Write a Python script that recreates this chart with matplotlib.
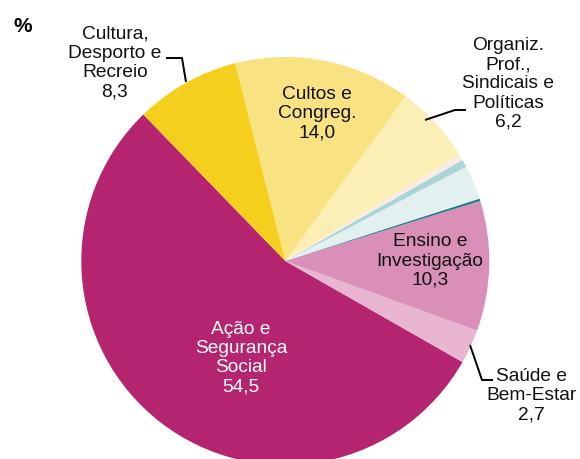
import matplotlib
matplotlib.use('Agg')
import matplotlib.pyplot as plt

plt.rcParams['font.family'] = ['Liberation Sans', 'DejaVu Sans']

# Distribuição por área de atividade (%)
areas = ['Ação e\nSegurança\nSocial', 'Saúde e\nBem-Estar', 'Ensino e\nInvestigação',
         'Outra 1', 'Outra 2', 'Outra 3', 'Outra 4',
         'Organiz.\nProf.,\nSindicais e\nPolíticas', 'Cultos e\nCongreg.',
         'Cultura,\nDesporto e\nRecreio']
valores = [54.5, 2.7, 10.3, 0.2, 2.7, 0.6, 0.5, 6.2, 14.0, 8.3]
rotulos = ['54,5', '2,7', '10,3', '', '', '', '', '6,2', '14,0', '8,3']
cores = ['#B5246E', '#E8B6D1', '#D98FB8', '#1F7F86', '#E2F0F0', '#AAD4D6',
         '#F8ECE3', '#FCEFB6', '#F9E282', '#F5CF1E']

W, H = 580, 459
fig = plt.figure(figsize=(W / 100, H / 100), dpi=100)
ax = fig.add_axes([0, 0, 1, 1])

ax.pie(valores, colors=cores, startangle=134.1, counterclock=True,
       radius=204, center=(285.3, H - 261),
       wedgeprops=dict(linewidth=0))
ax.set_xlim(0, W)
ax.set_ylim(0, H)
ax.set_aspect('equal')
ax.set_axis_off()

fs = 13.8


def txt(x, y, s, cor='#111111', **kw):
    ax.text(x, H - y, s, ha='center', va='center', fontsize=fs, color=cor,
            linespacing=1.16, **kw)


def seta(pts):
    ax.plot([p[0] for p in pts], [H - p[1] for p in pts], color='black', lw=1.4,
            solid_capstyle='butt', solid_joinstyle='miter')


ax.text(13, H - 26, '%', fontsize=15, fontweight='bold', ha='left', va='center')

# rótulos com linha de chamada
txt(115, 63, areas[9] + '\n' + rotulos[9])
seta([(166, 58), (182, 58), (186, 82)])

txt(508, 84, areas[7] + '\n' + rotulos[7])
seta([(425, 120), (455, 110), (466, 110)])

txt(531, 396, areas[1] + '\n' + rotulos[1])
seta([(470, 345), (482, 380), (493, 380)])

# rótulos dentro das fatias
txt(317, 114, areas[8] + '\n' + rotulos[8])
txt(430, 261, areas[2] + '\n' + rotulos[2])
txt(241, 358, areas[0] + '\n' + rotulos[0], cor='white')

fig.savefig('out.png', dpi=100)
